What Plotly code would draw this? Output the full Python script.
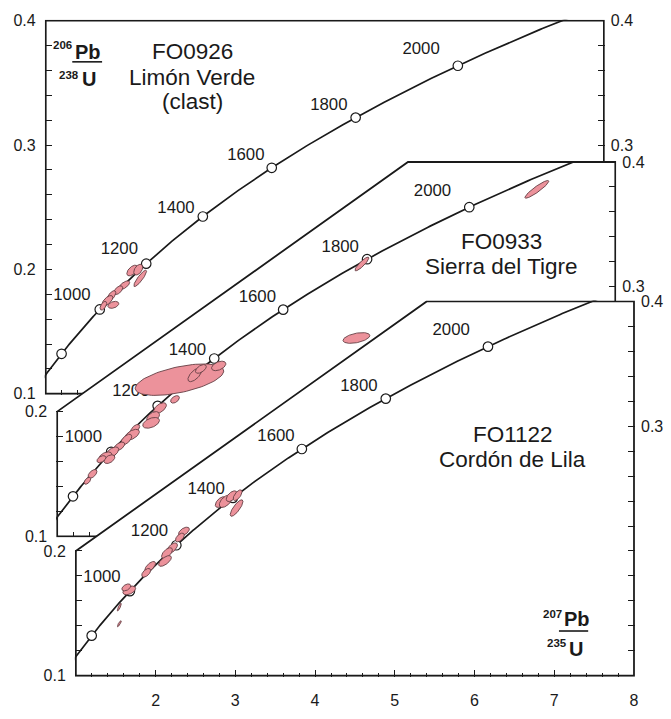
import numpy as np
import plotly.graph_objects as go

# ---------------------------------------------------------------------------
# U-Pb concordia diagrams for three detrital zircon samples
# ---------------------------------------------------------------------------

# decay constants (1/yr), Jaffey et al. (1971)
L238 = 1.55125e-10
L235 = 9.8485e-10

# age marks on the concordia (Ma)
AGE_MARKS = [800, 1000, 1200, 1400, 1600, 1800, 2000]
AGE_LABELS = [1000, 1200, 1400, 1600, 1800, 2000]

# axis ticks
X_MAJOR = [1, 2, 3, 4, 5, 6, 7, 8]
X_LABELS = ["", "2", "3", "4", "5", "6", "7", "8"]

# FO0926 - Limón Verde (clast): 207Pb/235U, 206Pb/238U, ellipse half-extents, rho
fo0926_x = [2.085, 2.160, 2.185, 1.985, 1.910, 1.823, 1.773, 1.848, 1.723]
fo0926_y = [0.1991, 0.1998, 0.1928, 0.1873, 0.1833, 0.1786, 0.1747, 0.1715, 0.1708]
fo0926_sx = [0.068, 0.056, 0.080, 0.068, 0.056, 0.056, 0.068, 0.068, 0.042]
fo0926_sy = [0.0043, 0.0043, 0.0066, 0.0035, 0.0035, 0.0043, 0.0043, 0.0028, 0.0035]
fo0926_rho = [0.55, 0.45, 0.88, 0.65, 0.55, 0.65, 0.65, 0.35, 0.55]

# FO0933 - Sierra del Tigre
fo0933_x = [2.534, 2.727, 2.802, 3.026, 2.478, 2.290, 2.203, 2.178, 1.979, 1.941,
            1.867, 1.779, 1.692, 1.605, 1.655, 1.555, 1.443, 1.380, 4.822, 4.753, 7.016]
fo0933_y = [0.2256, 0.2295, 0.2342, 0.2366, 0.2098, 0.2028, 0.1957, 0.1910, 0.1862, 0.1815,
            0.1776, 0.1721, 0.1674, 0.1642, 0.1619, 0.1619, 0.1501, 0.1446, 0.3183, 0.2590, 0.3781]
fo0933_sx = [0.555, 0.087, 0.068, 0.090, 0.055, 0.080, 0.080, 0.105, 0.056, 0.090,
             0.068, 0.068, 0.080, 0.080, 0.068, 0.056, 0.056, 0.042, 0.087, 0.168, 0.150]
fo0933_sy = [0.0126, 0.0055, 0.0035, 0.0038, 0.0030, 0.0043, 0.0043, 0.0043, 0.0035, 0.0043,
             0.0043, 0.0035, 0.0043, 0.0035, 0.0035, 0.0028, 0.0035, 0.0028, 0.0055, 0.0043, 0.0071]
fo0933_rho = [0.55, 0.65, 0.55, 0.45, 0.45, 0.55, 0.45, 0.45, 0.55, 0.55,
              0.60, 0.55, 0.55, 0.45, 0.45, 0.45, 0.55, 0.55, 0.88, 0.45, 0.92]

# FO1122 - Cordón de Lila
fo1122_x = [2.817, 2.879, 2.954, 3.029, 3.016, 2.355, 2.305, 2.206, 2.143, 2.118,
            1.931, 1.882, 1.670, 1.633, 1.545, 1.545]
fo1122_y = [0.2392, 0.2399, 0.2439, 0.2447, 0.2344, 0.2156, 0.2108, 0.2022, 0.1983, 0.1920,
            0.1873, 0.1825, 0.1684, 0.1708, 0.1550, 0.1417]
fo1122_sx = [0.068, 0.080, 0.068, 0.056, 0.080, 0.068, 0.056, 0.068, 0.068, 0.080,
             0.068, 0.056, 0.080, 0.056, 0.025, 0.025]
fo1122_sy = [0.0043, 0.0050, 0.0043, 0.0043, 0.0066, 0.0035, 0.0035, 0.0043, 0.0043, 0.0043,
             0.0043, 0.0035, 0.0035, 0.0028, 0.0031, 0.0024]
fo1122_rho = [0.55, 0.55, 0.55, 0.65, 0.80, 0.55, 0.55, 0.60, 0.60, 0.65,
              0.65, 0.55, 0.45, 0.45, 0.85, 0.85]

# ---------------------------------------------------------------------------
W, H = 671, 719
FONT = "Liberation Sans, Arial, Helvetica, sans-serif"
INK = "#1a1a1a"
FILL = "rgb(236,146,155)"
EDGE = "rgb(100,62,68)"

X0, X1 = 1.0, 8.0
Y0, Y1 = 0.1, 0.4

# frame boxes of the stacked panels in page pixels (left, top, right, bottom)
panels = [
    dict(box=(46.0, 14.0, 607.5, 395.0), cut=None, left_major=[0.1, 0.2, 0.3, 0.4],
         right_major=[0.3, 0.4], right_minor=[0.32, 0.34, 0.36, 0.38],
         x=fo0926_x, y=fo0926_y, sx=fo0926_sx, sy=fo0926_sy, rho=fo0926_rho),
    dict(box=(57.5, 158.3, 619.0, 540.7), cut=5.4, left_major=[0.1, 0.2],
         right_major=[0.3, 0.4], right_minor=[0.32, 0.34, 0.36, 0.38],
         x=fo0933_x, y=fo0933_y, sx=fo0933_sx, sy=fo0933_sy, rho=fo0933_rho),
    dict(box=(76.3, 300.7, 637.8, 683.0), cut=5.4, left_major=[0.1, 0.2],
         right_major=[0.1, 0.2, 0.3, 0.4],
         right_minor=[round(0.12 + 0.02 * i, 2) for i in range(14) if round(0.12 + 0.02 * i, 2) not in (0.2, 0.3)],
         x=fo1122_x, y=fo1122_y, sx=fo1122_sx, sy=fo1122_sy, rho=fo1122_rho),
]

# label offsets (px) of the age labels relative to their concordia point
LABEL_OFFSET = {1000: (-28, -14), 1200: (-27, -14), 1400: (-27, -8),
                1600: (-26, -12), 1800: (-27, -12), 2000: (-37, -16)}


def concordia(t_ma):
    t = np.asarray(t_ma, dtype=float) * 1e6
    return np.expm1(L235 * t), np.expm1(L238 * t)


def ellipse(x, y, sx, sy, rho, n=90):
    a = np.linspace(0.0, 2.0 * np.pi, n)
    ex = x + sx * np.cos(a)
    ey = y + sy * (rho * np.cos(a) + np.sqrt(1.0 - rho ** 2) * np.sin(a))
    return ex, ey


fig = go.Figure()
layout = dict(
    width=W, height=H, margin=dict(l=0, r=0, t=0, b=0),
    paper_bgcolor="white", plot_bgcolor="rgba(0,0,0,0)",
    showlegend=False, font=dict(family=FONT, color=INK, size=16),
    shapes=[], annotations=[],
)

t_curve = np.arange(600, 2301, 4)
cx, cy = concordia(t_curve)
mx, my = concordia(AGE_MARKS)
lx, ly = concordia(AGE_LABELS)

for k, p in enumerate(panels, start=1):
    left, top, right, bottom = p["box"]
    xs = (right - left) / (X1 - X0)      # px per x unit
    ys = (bottom - top) / (Y1 - Y0)      # px per y unit
    pad = 1.0                            # keep the frame stroke inside the clip area
    xid = "x" if k == 1 else f"x{k}"
    yid = "y" if k == 1 else f"y{k}"
    rid = f"y{k + 3}"
    xkey = "xaxis" if k == 1 else f"xaxis{k}"
    ykey = "yaxis" if k == 1 else f"yaxis{k}"
    rkey = f"yaxis{k + 3}"

    xr = [X0 - pad / xs, X1 + pad / xs]
    yr = [Y0 - pad / ys, Y1 + pad / ys]
    xdom = [(left - pad) / W, (right + pad) / W]
    ydom = [1 - (bottom + pad) / H, 1 - (top - pad) / H]

    common = dict(showgrid=False, zeroline=False, showline=False,
                  ticks="inside", tickcolor=INK, tickwidth=1.3,
                  tickfont=dict(family=FONT, size=16, color=INK))

    layout[xkey] = dict(common, domain=xdom, range=xr, anchor=yid,
                        tickmode="array", tickvals=X_MAJOR,
                        ticktext=X_LABELS if k == 3 else [""] * len(X_MAJOR),
                        showticklabels=(k == 3), ticklen=6.5 if k == 3 else 5,
                        ticklabelstandoff=12,
                        minor=dict(tickmode="linear", tick0=1.0, dtick=0.2, ticks="inside",
                                   ticklen=4 if k == 3 else 5, tickwidth=1.3, tickcolor=INK))
    lminor = [v for v in np.round(np.arange(0.12, max(p["left_major"]), 0.02), 2)
              if v not in p["left_major"]]
    layout[ykey] = dict(common, domain=ydom, range=yr, anchor=xid,
                        tickmode="array", tickvals=p["left_major"],
                        ticktext=[f"{v:.1f}" for v in p["left_major"]],
                        ticklen=7, ticklabelstandoff=8,
                        minor=dict(tickmode="array", tickvals=list(lminor), ticks="inside",
                                   ticklen=7, tickwidth=1.3, tickcolor=INK))
    layout[rkey] = dict(common, overlaying=yid, side="right", anchor=xid, range=yr,
                        tickmode="array", tickvals=p["right_major"],
                        ticktext=[f"{v:.1f}" if v >= 0.3 else "" for v in p["right_major"]],
                        ticklen=7, ticklabelstandoff=5,
                        minor=dict(tickmode="array", tickvals=p["right_minor"], ticks="inside",
                                   ticklen=7, tickwidth=1.3, tickcolor=INK))

    # white panel body with its frame; later panels cover the earlier ones
    if p["cut"] is None:
        path = f"M {X0},{Y0} L {X0},{Y1} L {X1},{Y1} L {X1},{Y0} Z"
    else:
        path = f"M {X0},{Y0} L {X0},0.2 L {p['cut']},{Y1} L {X1},{Y1} L {X1},{Y0} Z"
    layout["shapes"].append(dict(type="path", path=path, xref=xid, yref=yid, layer="below",
                                 fillcolor="white", line=dict(color=INK, width=1.8)))

    # concordia curve
    fig.add_trace(go.Scatter(x=cx, y=cy, mode="lines", xaxis=xid, yaxis=yid,
                             line=dict(color=INK, width=1.7), hoverinfo="skip"))
    # age labels
    tx = [lx[i] + LABEL_OFFSET[a][0] / xs for i, a in enumerate(AGE_LABELS)]
    ty = [ly[i] - LABEL_OFFSET[a][1] / ys for i, a in enumerate(AGE_LABELS)]
    fig.add_trace(go.Scatter(x=tx, y=ty, mode="text", text=[str(a) for a in AGE_LABELS],
                             textposition="middle center", xaxis=xid, yaxis=yid,
                             textfont=dict(family=FONT, size=16.8, color=INK), hoverinfo="skip"))
    # age marks
    fig.add_trace(go.Scatter(x=mx, y=my, mode="markers", xaxis=xid, yaxis=yid,
                             marker=dict(size=9.5, color="white", line=dict(color=INK, width=1.2)),
                             hoverinfo="skip"))
    # analyses as error ellipses
    for xi, yi, sxi, syi, ri in zip(p["x"], p["y"], p["sx"], p["sy"], p["rho"]):
        ex, ey = ellipse(xi, yi, sxi, syi, ri)
        fig.add_trace(go.Scatter(x=ex, y=ey, mode="lines", fill="toself", fillcolor=FILL,
                                 line=dict(color=EDGE, width=0.9), xaxis=xid, yaxis=yid,
                                 hoverinfo="skip"))
    # right-hand axis holder
    fig.add_trace(go.Scatter(x=[None], y=[None], mode="markers", xaxis=xid, yaxis=rid,
                             hoverinfo="skip"))


def ann(text, px, py, size, bold=False, anchor="center"):
    if bold:
        text = f"<b>{text}</b>"
    layout["annotations"].append(dict(text=text, x=px / W, y=1 - py / H, xref="paper", yref="paper",
                                      xanchor=anchor, yanchor="middle", showarrow=False,
                                      borderpad=0,
                                      font=dict(family=FONT, size=size, color=INK)))


# sample names
ann("FO0926", 194, 45.3, 22.5)
ann("Limón Verde", 193.5, 72, 22.5)
ann("(clast)", 193.5, 97, 22.5)
ann("FO0933", 505, 239.5, 22.5)
ann("Sierra del Tigre", 505, 265.2, 22.5)
ann("FO1122", 516, 436.2, 22.5)
ann("Cordón de Lila", 516, 462, 22.5)

# ratio labels: isotope mass numbers set right against the element symbols
ann("206", 73.8, 39, 11.5, bold=True, anchor="right")
ann("Pb", 74.3, 46, 20, bold=True, anchor="left")
ann("238", 80.8, 69, 11.5, bold=True, anchor="right")
ann("U", 81.3, 73.5, 20, bold=True, anchor="left")
ann("207", 566.3, 620, 11.5, bold=True, anchor="right")
ann("Pb", 566.8, 625.5, 20, bold=True, anchor="left")
ann("235", 571.3, 650, 11.5, bold=True, anchor="right")
ann("U", 571.8, 655.5, 20, bold=True, anchor="left")
for x_a, x_b, y_l in [(72.7, 102.7, 56.0), (562.3, 591.7, 637.3)]:
    layout["shapes"].append(dict(type="line", xref="paper", yref="paper", layer="above",
                                 x0=x_a / W, x1=x_b / W, y0=1 - y_l / H, y1=1 - y_l / H,
                                 line=dict(color=INK, width=1.6)))

fig.update_layout(**layout)
fig.write_html("out.html")
